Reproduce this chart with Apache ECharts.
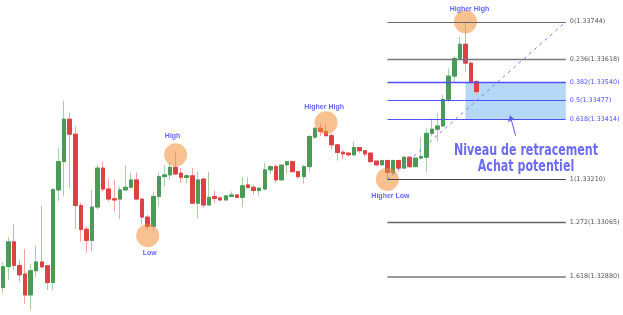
<!DOCTYPE html>
<html>
<head>
<meta charset="utf-8">
<script src="https://cdn.jsdelivr.net/npm/echarts@6/dist/echarts.min.js"></script>
<style>html,body{margin:0;padding:0;background:#fff;}#c{width:623px;height:315px;}</style>
</head>
<body>
<div id="c"></div>
<script>
// ---- data ----
const openP = [1.32843,1.32914,1.32998,1.32918,1.32889,1.32818,1.32900,1.32930,1.32917,1.32860,
1.33174,1.33270,1.33414,1.33363,1.33121,1.33041,1.33003,1.33116,1.33248,1.33177,
1.33144,1.33143,1.33174,1.33183,1.33208,1.33143,1.33082,1.33050,1.33152,1.33219,
1.33225,1.33251,1.33231,1.33216,1.33222,1.33129,1.33211,1.33123,1.33152,1.33147,
1.33140,1.33152,1.33157,1.33149,1.33191,1.33183,1.33172,1.33177,1.33242,1.33253,
1.33208,1.33259,1.33270,1.33236,1.33219,1.33253,1.33353,1.33383,1.33372,1.33358,
1.33327,1.33302,1.33299,1.33293,1.33318,1.33307,1.33299,1.33272,1.33259,1.33274,
1.33233,1.33274,1.33248,1.33285,1.33253,1.33282,1.33285,1.33366,1.33380,1.33391,
1.33481,1.33560,1.33620,1.33668,1.33604,1.33541];
const closeP = [1.32914,1.32998,1.32918,1.32886,1.32818,1.32900,1.32930,1.32913,1.32860,1.33175,
1.33270,1.33414,1.33363,1.33121,1.33040,1.33003,1.33116,1.33248,1.33177,1.33143,
1.33140,1.33174,1.33183,1.33208,1.33143,1.33082,1.33050,1.33152,1.33219,1.33225,
1.33251,1.33228,1.33217,1.33222,1.33129,1.33208,1.33123,1.33149,1.33145,1.33140,
1.33154,1.33157,1.33149,1.33188,1.33182,1.33172,1.33180,1.33242,1.33253,1.33208,
1.33258,1.33270,1.33236,1.33219,1.33253,1.33355,1.33383,1.33372,1.33358,1.33327,
1.33301,1.33296,1.33293,1.33318,1.33307,1.33296,1.33270,1.33259,1.33274,1.33233,
1.33274,1.33248,1.33285,1.33253,1.33282,1.33287,1.33366,1.33380,1.33391,1.33481,
1.33560,1.33620,1.33668,1.33604,1.33541,1.33507];
const lowP = [1.32825,1.32869,1.32903,1.32863,1.32788,1.32768,1.32879,1.32910,1.32835,1.32835,
1.33137,1.33152,1.33181,1.33042,1.32999,1.32961,1.32965,1.33107,1.33169,1.33135,
1.33101,1.33075,1.33174,1.33180,1.33138,1.33056,1.33039,1.33033,1.33118,1.33186,
1.33208,1.33225,1.33197,1.33197,1.33129,1.33078,1.33112,1.33120,1.33129,1.33138,
1.33140,1.33149,1.33146,1.33116,1.33180,1.33157,1.33155,1.33174,1.33228,1.33199,
1.33208,1.33228,1.33232,1.33211,1.33195,1.33236,1.33346,1.33357,1.33355,1.33312,
1.33274,1.33278,1.33287,1.33287,1.33299,1.33287,1.33265,1.33256,1.33257,1.33210,
1.33225,1.33236,1.33245,1.33248,1.33251,1.33278,1.33233,1.33356,1.33338,1.33389,
1.33473,1.33536,1.33615,1.33575,1.33530,1.33496];
const highP = [1.32930,1.33014,1.33059,1.32937,1.32974,1.32924,1.32986,1.33120,1.32917,1.33181,
1.33318,1.33477,1.33435,1.33389,1.33130,1.33050,1.33174,1.33259,1.33270,1.33211,
1.33208,1.33186,1.33259,1.33233,1.33233,1.33144,1.33090,1.33169,1.33233,1.33259,
1.33267,1.33304,1.33248,1.33228,1.33248,1.33236,1.33214,1.33236,1.33172,1.33152,
1.33154,1.33169,1.33157,1.33217,1.33217,1.33191,1.33183,1.33267,1.33258,1.33262,
1.33262,1.33272,1.33272,1.33240,1.33259,1.33361,1.33387,1.33400,1.33400,1.33366,
1.33329,1.33310,1.33301,1.33338,1.33319,1.33310,1.33301,1.33272,1.33274,1.33274,
1.33276,1.33276,1.33287,1.33287,1.33282,1.33353,1.33383,1.33417,1.33434,1.33496,
1.33586,1.33628,1.33694,1.33744,1.33609,1.33547];

const fibRatios = [0, 0.236, 0.382, 0.5, 0.618, 1, 1.272, 1.618];
const fibPrices = [1.33744, 1.33618, 1.33540, 1.33477, 1.33414, 1.33210, 1.33065, 1.32880];
const fibStartIdx = 69, fibEndIdx = 101, zoneStartIdx = 83;

const swingNames = ['Low', 'High', 'Higher High', 'Higher Low', 'Higher High'];
const swingIdx = [26, 31, 58, 69, 83];
const swingPrice = [1.33019, 1.33293, 1.33402, 1.33210, 1.33744];

const arrowFrom = [92, 1.33358], arrowTo = [91, 1.33426];
const noteText = ['Niveau de retracement', 'Achat potentiel'];

const nCats = 102;
const categories = Array.from({length: nCats}, (_, i) => String(i));

// ---- build ----
const wickData = openP.map((o, i) => [o, closeP[i], lowP[i], highP[i]]);
const bodyData = openP.map((o, i) => [o, closeP[i], Math.min(o, closeP[i]), Math.max(o, closeP[i])]);

const blueSet = new Set([2, 3, 4]);
const lineStyles = [
  {color:'#6a6a6a', width:1}, {color:'#777', width:1.3}, {color:'#4f4fff', width:1.3},
  {color:'#4f4fff', width:1}, {color:'#4f4fff', width:1}, {color:'#444', width:1},
  {color:'#666', width:1.3}, {color:'#9a9a9a', width:2}
];
const fibLines = fibPrices.map((p, k) => [
  {coord:[fibStartIdx, p], lineStyle: Object.assign({type:'solid'}, lineStyles[k]),
   label:{show:true, position:'end', distance:4, formatter: fibRatios[k] + '(' + p.toFixed(5) + ')',
     color: blueSet.has(k) ? '#5050ff' : '#555', fontSize: 6.4, fontFamily:'DejaVu Sans'}},
  {coord:[fibEndIdx, p]}
]);
fibLines.push([
  {coord:[fibStartIdx, fibPrices[5]], lineStyle:{color:'#7a7aff', width:1, type:[3,4]}, label:{show:false}},
  {coord:[fibEndIdx, fibPrices[0]]}
]);

const labelOpts = [
  {position:'bottom', distance:2.5, offset:[2,0]},
  {position:'top', distance:4, offset:[-3,0]},
  {position:'top', distance:1, offset:[-2,0]},
  {position:'bottom', distance:1.5, offset:[3,0]},
  {position:'top', distance:-2.5, offset:[4,0]}
];
const swingData = swingNames.map((n, i) => ({
  value:[swingIdx[i], swingPrice[i]],
  label: Object.assign({show:true, formatter:n, color:'#3c3cf0', fontSize:7, fontWeight:'bold', fontFamily:'Liberation Sans'}, labelOpts[i])
}));

const chart = echarts.init(document.getElementById('c'), null, {renderer:'canvas'});
chart.setOption({
  animation:false,
  backgroundColor:'#fff',
  grid:{left:-3.81, right:54.4, top:0, bottom:0},
  xAxis:{type:'category', data:categories, boundaryGap:true, show:false},
  yAxis:{type:'value', min:1.32750, max:1.33818, show:false, scale:true},
  series:[
    {
      type:'candlestick', data:wickData, barWidth:4, silent:true,
      itemStyle:{color:'#a5d1a5', color0:'#f7a0a0', borderColor:'#a5d1a5', borderColor0:'#f7a0a0', borderWidth:1},
      markArea:{silent:true, itemStyle:{color:'#b5d8f7'},
        data:[[{coord:[zoneStartIdx, fibPrices[2]]},{coord:[fibEndIdx, fibPrices[4]]}]]},
      markLine:{silent:true, symbol:['none','none'], animation:false, data:fibLines}
    },
    {
      type:'candlestick', data:bodyData, barWidth:4, silent:true,
      itemStyle:{color:'#4c9a58', color0:'#dc4242', borderColor:'#4c9a58', borderColor0:'#dc4242', borderWidth:1}
    },
    {
      type:'scatter', data:swingData, symbolSize:23, silent:true,
      itemStyle:{color:'rgba(243,140,50,0.68)'},
      markLine:{silent:true, symbol:['none','arrow'], symbolSize:6, animation:false,
        lineStyle:{color:'#5a5af0', width:1, type:'solid'}, label:{show:false},
        data:[[{coord:arrowFrom},{coord:arrowTo}]]}
    }
  ],
  graphic:[{
    type:'text', x:526, y:158.7, scaleX:0.74, silent:true,
    style:{text:noteText.join('\n'), align:'center', verticalAlign:'middle', lineHeight:16,
      fill:'#6c6cf2', font:"bold 15px 'DejaVu Sans', sans-serif"}
  }]
});
</script>
</body>
</html>
